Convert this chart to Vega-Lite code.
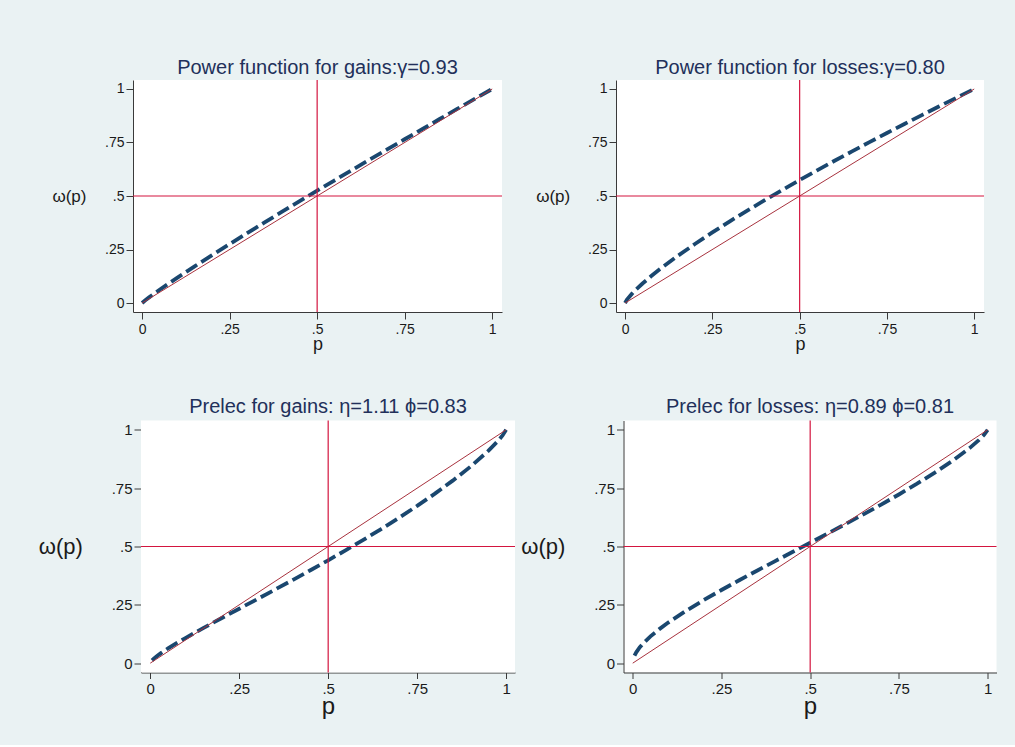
{
  "$schema": "https://vega.github.io/schema/vega-lite/v6.json",
  "padding": {"left": 38, "top": 58, "right": 19, "bottom": 26},
  "datasets": {
    "diag": [{"p": 0, "w": 0}, {"p": 1, "w": 1}],
    "ref": [{"p": 0.5, "w": 0.5}],
    "g1": [{"p":0,"w":0},{"p":0.005,"w":0.00724},{"p":0.01,"w":0.0138},{"p":0.02,"w":0.02629},{"p":0.03,"w":0.03834},{"p":0.05,"w":0.06168},{"p":0.075,"w":0.08989},{"p":0.1,"w":0.11748},{"p":0.15,"w":0.1713},{"p":0.2,"w":0.22384},{"p":0.25,"w":0.27548},{"p":0.3,"w":0.32637},{"p":0.35,"w":0.37671},{"p":0.4,"w":0.42648},{"p":0.45,"w":0.47587},{"p":0.5,"w":0.52486},{"p":0.55,"w":0.5735},{"p":0.6,"w":0.62188},{"p":0.65,"w":0.66991},{"p":0.7,"w":0.7177},{"p":0.75,"w":0.76523},{"p":0.8,"w":0.81258},{"p":0.85,"w":0.85976},{"p":0.9,"w":0.90664},{"p":0.95,"w":0.95342},{"p":1,"w":1}],
    "g2": [{"p":0,"w":0},{"p":0.005,"w":0.01443},{"p":0.01,"w":0.02512},{"p":0.02,"w":0.04373},{"p":0.03,"w":0.06049},{"p":0.05,"w":0.09103},{"p":0.075,"w":0.12593},{"p":0.1,"w":0.15849},{"p":0.15,"w":0.21922},{"p":0.2,"w":0.27595},{"p":0.25,"w":0.32988},{"p":0.3,"w":0.38169},{"p":0.35,"w":0.43178},{"p":0.4,"w":0.48047},{"p":0.45,"w":0.52793},{"p":0.5,"w":0.57435},{"p":0.55,"w":0.61988},{"p":0.6,"w":0.66453},{"p":0.65,"w":0.70845},{"p":0.7,"w":0.75173},{"p":0.75,"w":0.79441},{"p":0.8,"w":0.83653},{"p":0.85,"w":0.87809},{"p":0.9,"w":0.91916},{"p":0.95,"w":0.95981},{"p":1,"w":1}],
    "g3": [{"p":0.005,"w":0.01193},{"p":0.01,"w":0.0194},{"p":0.02,"w":0.03194},{"p":0.03,"w":0.04306},{"p":0.05,"w":0.06334},{"p":0.075,"w":0.08665},{"p":0.1,"w":0.10884},{"p":0.15,"w":0.15131},{"p":0.2,"w":0.19251},{"p":0.25,"w":0.23323},{"p":0.3,"w":0.27396},{"p":0.35,"w":0.31486},{"p":0.4,"w":0.3562},{"p":0.45,"w":0.39817},{"p":0.5,"w":0.44093},{"p":0.55,"w":0.48467},{"p":0.6,"w":0.52962},{"p":0.65,"w":0.57592},{"p":0.7,"w":0.6239},{"p":0.75,"w":0.67396},{"p":0.8,"w":0.72648},{"p":0.85,"w":0.78219},{"p":0.9,"w":0.8424},{"p":0.95,"w":0.90996},{"p":0.975,"w":0.94884},{"p":0.99,"w":0.97591},{"p":1,"w":1}],
    "g4": [{"p":0.005,"w":0.03222},{"p":0.01,"w":0.04658},{"p":0.02,"w":0.0681},{"p":0.03,"w":0.08554},{"p":0.05,"w":0.11482},{"p":0.075,"w":0.146},{"p":0.1,"w":0.17398},{"p":0.15,"w":0.22424},{"p":0.2,"w":0.27019},{"p":0.25,"w":0.31364},{"p":0.3,"w":0.35545},{"p":0.35,"w":0.39622},{"p":0.4,"w":0.4364},{"p":0.45,"w":0.4763},{"p":0.5,"w":0.51616},{"p":0.55,"w":0.55617},{"p":0.6,"w":0.59663},{"p":0.65,"w":0.63773},{"p":0.7,"w":0.67967},{"p":0.75,"w":0.72296},{"p":0.8,"w":0.76791},{"p":0.85,"w":0.81522},{"p":0.9,"w":0.86606},{"p":0.95,"w":0.92286},{"p":0.975,"w":0.95569},{"p":0.99,"w":0.97879},{"p":1,"w":1}]
  },
  "vconcat": [
    {
      "spacing": 32,
      "hconcat": [
        {
          "width": 369, "height": 232,
          "title": {"text": "Power function for gains:γ=0.93", "offset": 1},
          "layer": [
            {"data": {"name": "g1"}, "mark": {"type": "line", "stroke": "#1A476F", "strokeWidth": 3.8, "strokeDash": [13, 5], "strokeCap": "butt"},
             "encoding": {
               "x": {"field": "p", "type": "quantitative", "scale": {"domain": [-0.026, 1.028], "nice": false, "zero": false}, "axis": {"title": "p", "values": [0, 0.25, 0.5, 0.75, 1], "labelExpr": "datum.value == 0 ? '0' : datum.value == 1 ? '1' : replace(format(datum.value, '.2~f'), '0.', '.')", "labelFontSize": 14, "titleFontSize": 18, "tickSize": 7, "labelPadding": 3, "titleY": 37.3}},
               "y": {"field": "w", "type": "quantitative", "scale": {"domain": [-0.042, 1.042], "nice": false, "zero": false}, "axis": {"title": "ω(p)", "values": [0, 0.25, 0.5, 0.75, 1], "labelExpr": "datum.value == 0 ? '0' : datum.value == 1 ? '1' : replace(format(datum.value, '.2~f'), '0.', '.')", "labelFontSize": 14, "titleFontSize": 17, "tickSize": 7, "labelPadding": 2, "titleX": -47, "titleY": 116}}
             }},
            {"data": {"name": "diag"}, "mark": {"type": "line", "stroke": "#A8323E", "strokeWidth": 1},
             "encoding": {"x": {"field": "p", "type": "quantitative"}, "y": {"field": "w", "type": "quantitative"}}},
            {"data": {"name": "ref"}, "mark": {"type": "rule", "stroke": "#D3153F", "strokeWidth": 1.2},
             "encoding": {"x": {"field": "p", "type": "quantitative"}}},
            {"data": {"name": "ref"}, "mark": {"type": "rule", "stroke": "#D3153F", "strokeWidth": 1.2},
             "encoding": {"y": {"field": "w", "type": "quantitative"}}}
          ]
        },
        {
          "width": 368, "height": 232,
          "title": {"text": "Power function for losses:γ=0.80", "offset": 1},
          "layer": [
            {"data": {"name": "g2"}, "mark": {"type": "line", "stroke": "#1A476F", "strokeWidth": 3.8, "strokeDash": [13, 5], "strokeCap": "butt"},
             "encoding": {
               "x": {"field": "p", "type": "quantitative", "scale": {"domain": [-0.026, 1.028], "nice": false, "zero": false}, "axis": {"title": "p", "values": [0, 0.25, 0.5, 0.75, 1], "labelExpr": "datum.value == 0 ? '0' : datum.value == 1 ? '1' : replace(format(datum.value, '.2~f'), '0.', '.')", "labelFontSize": 14, "titleFontSize": 18, "tickSize": 7, "labelPadding": 3, "titleY": 37.3}},
               "y": {"field": "w", "type": "quantitative", "scale": {"domain": [-0.042, 1.042], "nice": false, "zero": false}, "axis": {"title": "ω(p)", "values": [0, 0.25, 0.5, 0.75, 1], "labelExpr": "datum.value == 0 ? '0' : datum.value == 1 ? '1' : replace(format(datum.value, '.2~f'), '0.', '.')", "labelFontSize": 14, "titleFontSize": 17, "tickSize": 7, "labelPadding": 2, "titleX": -46.3, "titleY": 116}}
             }},
            {"data": {"name": "diag"}, "mark": {"type": "line", "stroke": "#A8323E", "strokeWidth": 1},
             "encoding": {"x": {"field": "p", "type": "quantitative"}, "y": {"field": "w", "type": "quantitative"}}},
            {"data": {"name": "ref"}, "mark": {"type": "rule", "stroke": "#D3153F", "strokeWidth": 1.2},
             "encoding": {"x": {"field": "p", "type": "quantitative"}}},
            {"data": {"name": "ref"}, "mark": {"type": "rule", "stroke": "#D3153F", "strokeWidth": 1.2},
             "encoding": {"y": {"field": "w", "type": "quantitative"}}}
          ]
        }
      ]
    },
    {
      "spacing": 4.5,
      "hconcat": [
        {
          "width": 382, "height": 252,
          "view": {"fill": null, "stroke": null},
          "title": {"text": "Prelec for gains: η=1.11 ϕ=0.83", "offset": 2.5, "dx": 4},
          "layer": [
            {"data": {"name": "ref"}, "mark": {"type": "rect", "fill": "white"},
             "encoding": {
               "x": {"datum": -0.026, "type": "quantitative"}, "x2": {"datum": 1.025},
               "y": {"datum": -0.04, "type": "quantitative"}, "y2": {"datum": 1.04}
             }},
            {"data": {"name": "g3"}, "mark": {"type": "line", "stroke": "#1A476F", "strokeWidth": 3.8, "strokeDash": [13, 5], "strokeCap": "butt"},
             "encoding": {
               "x": {"field": "p", "type": "quantitative", "scale": {"domain": [-0.026, 1.025], "range": [8, 382], "nice": false, "zero": false}, "axis": {"title": "p", "values": [0, 0.25, 0.5, 0.75, 1], "labelExpr": "datum.value == 0 ? '0' : datum.value == 1 ? '1' : replace(format(datum.value, '.2~f'), '0.', '.')", "labelFontSize": 15, "titleFontSize": 24, "tickSize": 6, "labelPadding": 2.5, "titleY": 41.3}},
               "y": {"field": "w", "type": "quantitative", "scale": {"domain": [-0.04, 1.04], "nice": false, "zero": false}, "axis": {"title": "ω(p)", "offset": -8, "values": [0, 0.25, 0.5, 0.75, 1], "labelExpr": "datum.value == 0 ? '0' : datum.value == 1 ? '1' : replace(format(datum.value, '.2~f'), '0.', '.')", "labelFontSize": 15, "titleFontSize": 22, "tickSize": 7, "labelPadding": 2, "titleX": -58.6, "titleY": 126}}
             }},
            {"data": {"name": "diag"}, "mark": {"type": "line", "stroke": "#A8323E", "strokeWidth": 1},
             "encoding": {"x": {"field": "p", "type": "quantitative"}, "y": {"field": "w", "type": "quantitative"}}},
            {"data": {"name": "ref"}, "mark": {"type": "rule", "stroke": "#D3153F", "strokeWidth": 1.2},
             "encoding": {"x": {"field": "p", "type": "quantitative"}}},
            {"data": {"name": "ref"}, "mark": {"type": "rule", "stroke": "#D3153F", "strokeWidth": 1.2},
             "encoding": {"y": {"field": "w", "type": "quantitative"}, "x": {"datum": -0.026, "type": "quantitative"}, "x2": {"datum": 1.025}}}
          ]
        },
        {
          "width": 373, "height": 252,
          "title": {"text": "Prelec for losses: η=0.89 ϕ=0.81", "offset": 2.5},
          "layer": [
            {"data": {"name": "g4"}, "mark": {"type": "line", "stroke": "#1A476F", "strokeWidth": 3.8, "strokeDash": [13, 5], "strokeCap": "butt"},
             "encoding": {
               "x": {"field": "p", "type": "quantitative", "scale": {"domain": [-0.026, 1.025], "nice": false, "zero": false}, "axis": {"title": "p", "values": [0, 0.25, 0.5, 0.75, 1], "labelExpr": "datum.value == 0 ? '0' : datum.value == 1 ? '1' : replace(format(datum.value, '.2~f'), '0.', '.')", "labelFontSize": 15, "titleFontSize": 24, "tickSize": 6, "labelPadding": 2.5, "titleY": 41.3}},
               "y": {"field": "w", "type": "quantitative", "scale": {"domain": [-0.04, 1.04], "nice": false, "zero": false}, "axis": {"title": "ω(p)", "values": [0, 0.25, 0.5, 0.75, 1], "labelExpr": "datum.value == 0 ? '0' : datum.value == 1 ? '1' : replace(format(datum.value, '.2~f'), '0.', '.')", "labelFontSize": 15, "titleFontSize": 22, "tickSize": 7, "labelPadding": 2, "titleX": -58.6, "titleY": 126}}
             }},
            {"data": {"name": "diag"}, "mark": {"type": "line", "stroke": "#A8323E", "strokeWidth": 1},
             "encoding": {"x": {"field": "p", "type": "quantitative"}, "y": {"field": "w", "type": "quantitative"}}},
            {"data": {"name": "ref"}, "mark": {"type": "rule", "stroke": "#D3153F", "strokeWidth": 1.2},
             "encoding": {"x": {"field": "p", "type": "quantitative"}}},
            {"data": {"name": "ref"}, "mark": {"type": "rule", "stroke": "#D3153F", "strokeWidth": 1.2},
             "encoding": {"y": {"field": "w", "type": "quantitative"}}}
          ]
        }
      ]
    }
  ],
  "spacing": 42.5,
  "config": {
    "background": "#EAF2F3",
    "font": "Liberation Sans",
    "view": {"fill": "white", "stroke": null},
    "axis": {"grid": false, "domainColor": "#3a3a3a", "tickColor": "#3a3a3a", "labelColor": "#1a1a1a", "titleColor": "#1a1a1a", "titleFontWeight": "normal", "labelFont": "Liberation Sans", "titleFont": "Liberation Sans", "labelFlush": false, "labelOverlap": false, "domainWidth": 1, "tickWidth": 1},
    "axisY": {"titleAngle": 0, "titleAlign": "right", "titleBaseline": "middle"},
    "axisX": {"titleBaseline": "alphabetic", "titleAlign": "center"},
    "title": {"font": "Liberation Sans", "fontSize": 20, "fontWeight": "normal", "color": "#22305A"}
  }
}
